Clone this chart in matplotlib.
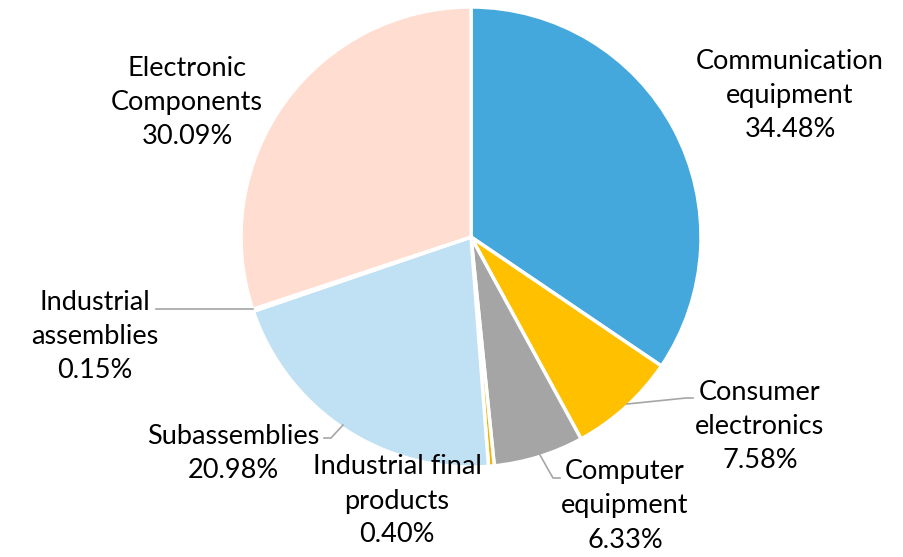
import matplotlib.pyplot as plt

plt.rcParams.update({
    "font.family": ["Lato", "DejaVu Sans"],
    "figure.facecolor": "white",
})

categories = [
    "Communication\nequipment",
    "Consumer\nelectronics",
    "Computer\nequipment",
    "Industrial final\nproducts",
    "Subassemblies",
    "Industrial\nassemblies",
    "Electronic\nComponents",
]
shares = [34.48, 7.58, 6.33, 0.40, 20.98, 0.15, 30.09]
colors = ["#45A8DC", "#FFC000", "#A5A5A5", "#F2B400",
          "#BFE1F3", "#F8CBAD", "#FFDDD0"]

fig = plt.figure(figsize=(9.04, 5.57), dpi=100)
ax = fig.add_axes([0, 0, 1, 1])

cx, cy, r = 471, 557 - 237, 230
ax.pie(shares, colors=colors, startangle=90, counterclock=False,
       center=(cx, cy), radius=r, frame=True,
       wedgeprops=dict(edgecolor="white", linewidth=2.5))
ax.set_xlim(0, 904)
ax.set_ylim(0, 557)
ax.axis("off")

# label positions in pixel coords (x, y from top)
label_pos = [
    (790, 95),
    (760, 426),
    (625, 506),
    (397, 501),
    (233, 454),
    (95, 336),
    (187, 102),
]
for name, val, (x, y) in zip(categories, shares, label_pos):
    ax.text(x, 557 - y, f"{name}\n{val:.2f}%", ha="center", va="center",
            fontsize=19.5, linespacing=1.45, color="black")

# leader lines
leaders = [
    [(627, 404), (686, 398), (693, 398)],
    [(540, 455), (553, 478), (560, 478)],
    [(343, 425), (331, 438), (324, 438)],
    [(253, 309), (156, 309)],
]
for pts in leaders:
    xs = [p[0] for p in pts]
    ys = [557 - p[1] for p in pts]
    ax.plot(xs, ys, color="#A6A6A6", linewidth=1.2)

fig.savefig("out.png", dpi=100)
